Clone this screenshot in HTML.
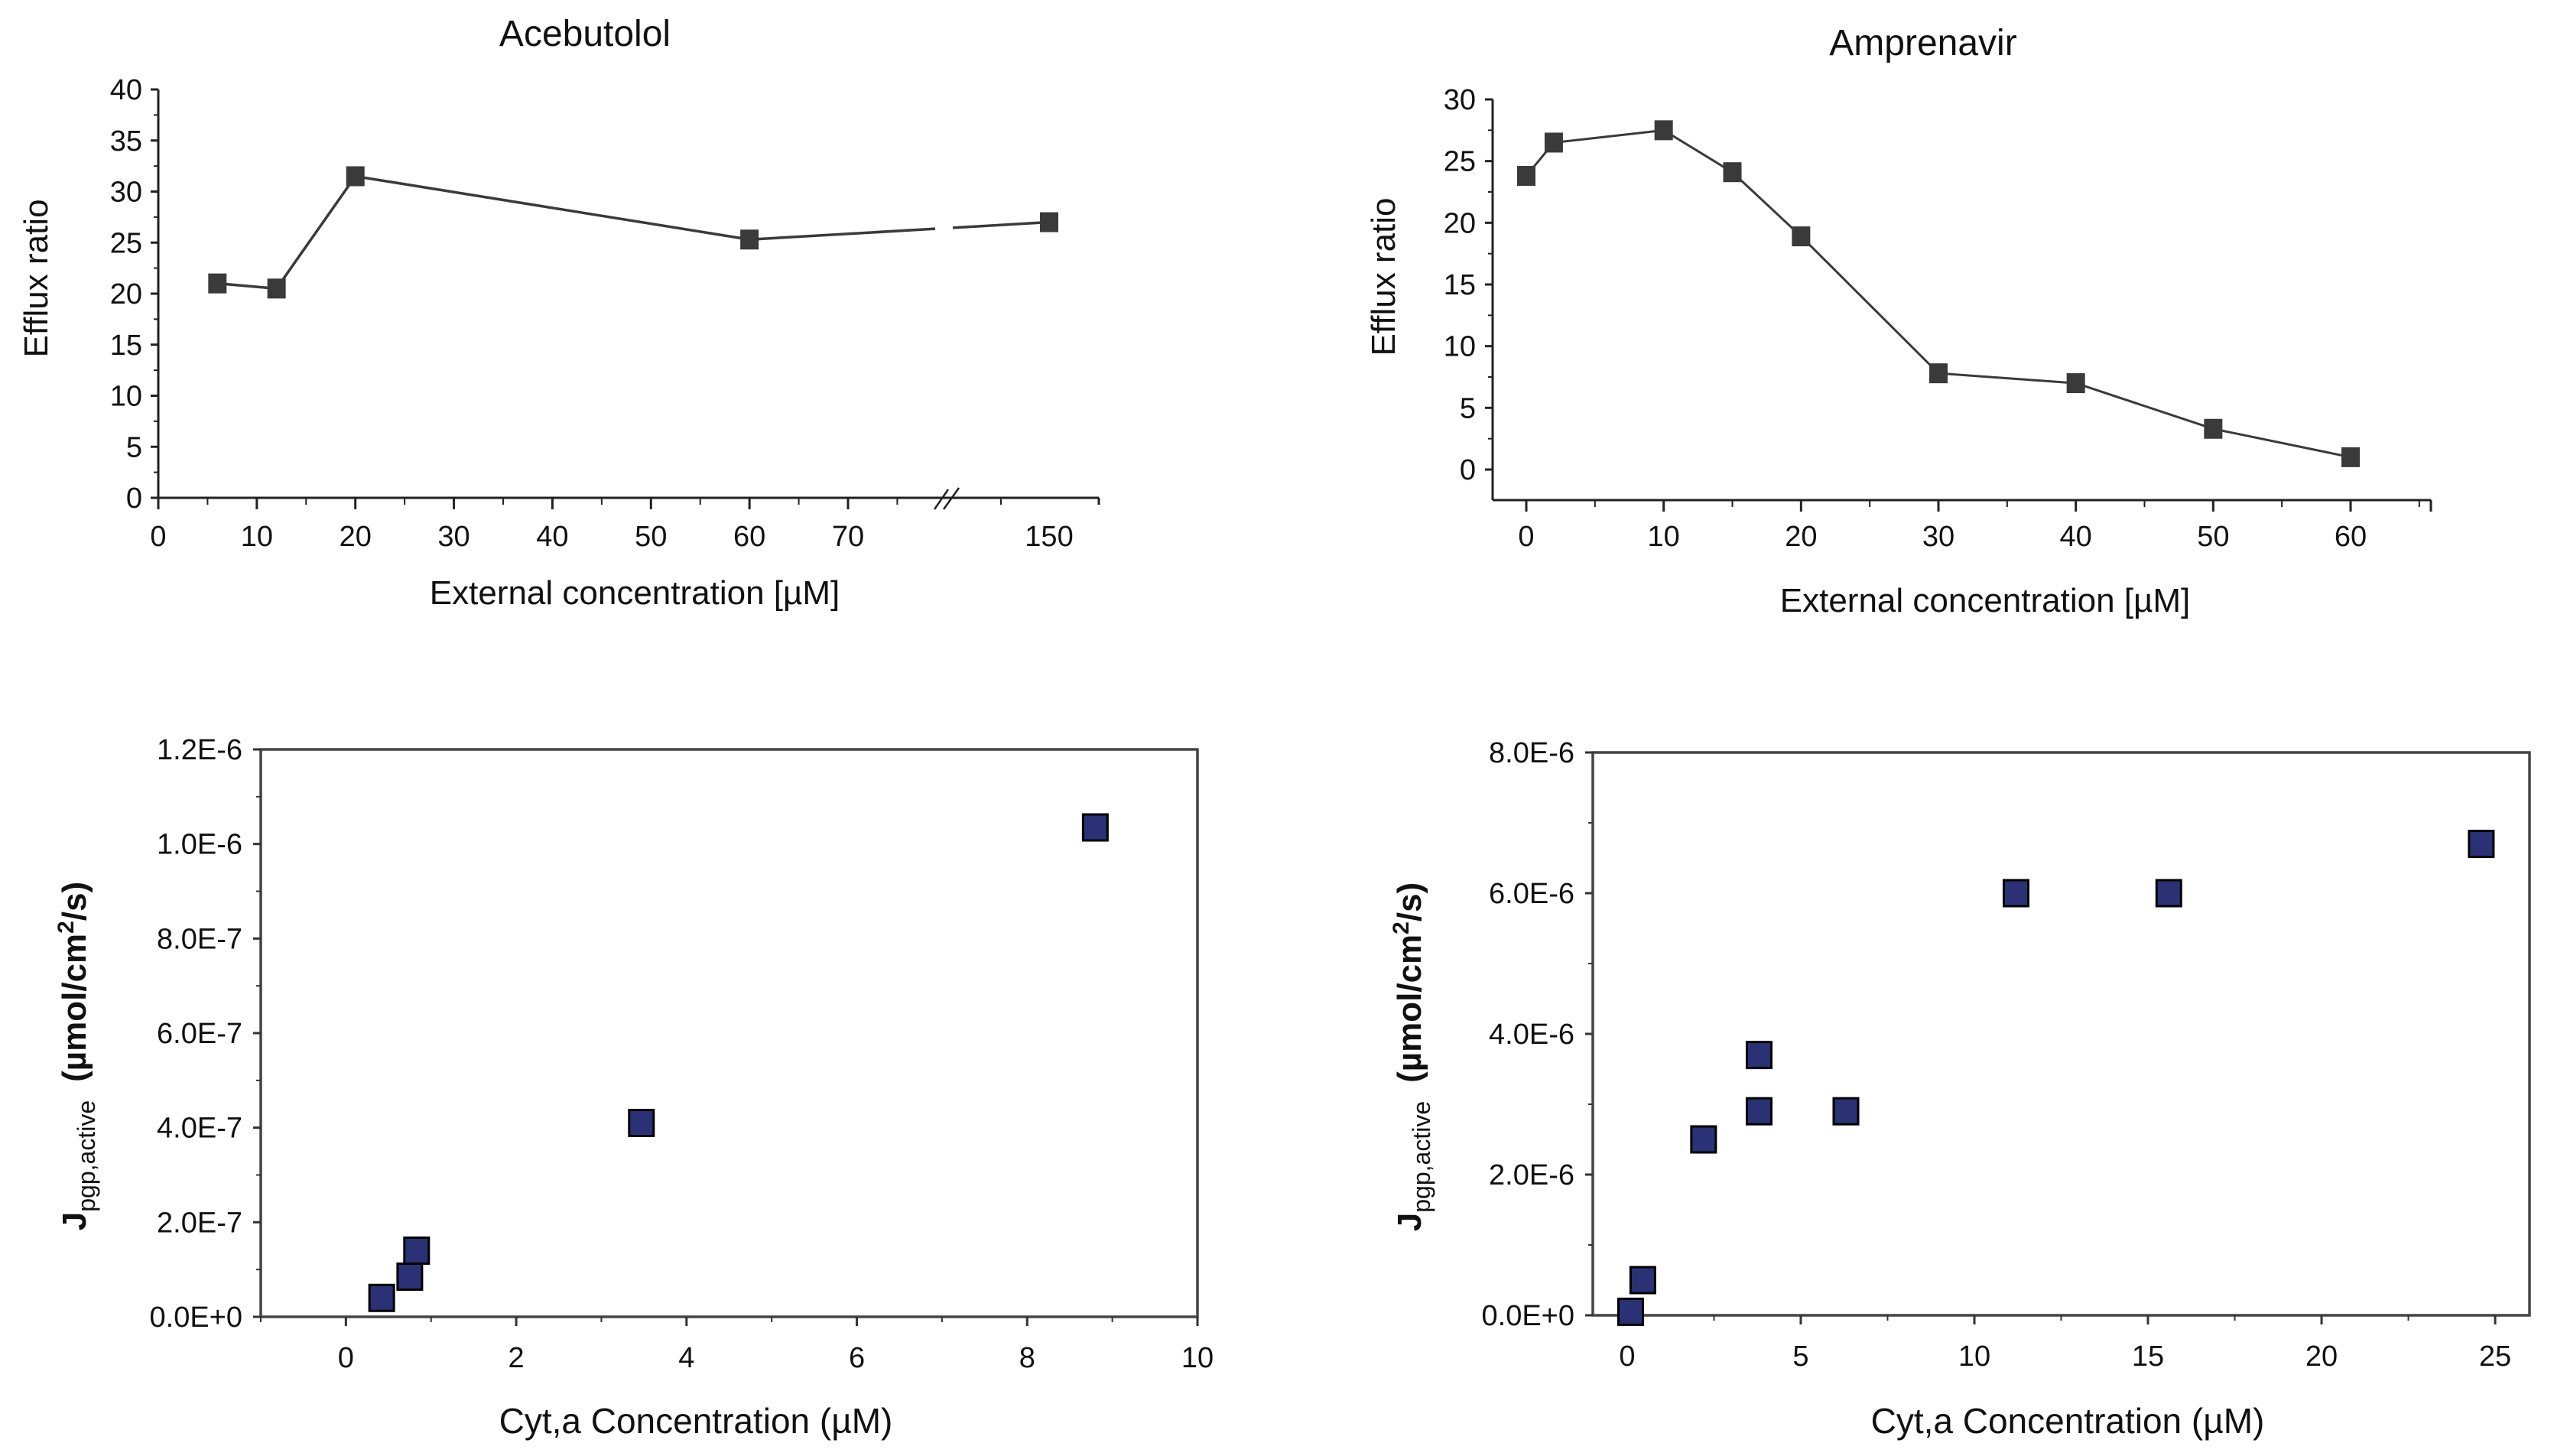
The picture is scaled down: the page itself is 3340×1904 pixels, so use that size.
<!DOCTYPE html>
<html><head><meta charset="utf-8"><style>
html,body{margin:0;padding:0;background:#fff}
svg{display:block}
text{font-family:"Liberation Sans",Arial,sans-serif;fill:#111}
</style></head><body>
<svg id="c" width="3340" height="1904" viewBox="0 0 3340 1904" xmlns="http://www.w3.org/2000/svg"></svg>
<script>
// ---- data ----
const aceX = [6, 12, 20, 60, 150];
const aceY = [21, 20.5, 31.5, 25.3, 27];
const aceXTicks = [0,10,20,30,40,50,60,70];
const aceYTicks = [0,5,10,15,20,25,30,35,40];
const ampX = [0, 2, 10, 15, 20, 30, 40, 50, 60];
const ampY = [23.8, 26.5, 27.5, 24.1, 18.9, 7.8, 7.0, 3.3, 1.0];
const ampXTicks = [0,10,20,30,40,50,60];
const ampYTicks = [0,5,10,15,20,25,30];
const cytAceX = [0.42, 0.75, 0.83, 3.47, 8.8];
const cytAceY = [0.04, 0.085, 0.14, 0.41, 1.035]; // x1e-6
const cytAceXTicks = [0,2,4,6,8,10];
const cytAceYTicks = ["0.0E+0","2.0E-7","4.0E-7","6.0E-7","8.0E-7","1.0E-6","1.2E-6"];
const cytAmpX = [0.1, 0.45, 2.2, 3.8, 3.8, 6.3, 11.2, 15.6, 24.6];
const cytAmpY = [0.05, 0.5, 2.5, 3.7, 2.9, 2.9, 6.0, 6.0, 6.7]; // x1e-6
const cytAmpXTicks = [0,5,10,15,20,25];
const cytAmpYTicks = ["0.0E+0","2.0E-6","4.0E-6","6.0E-6","8.0E-6"];

const NS="http://www.w3.org/2000/svg";
const svg=document.getElementById('c');
function mk(tag,attrs,parent,txt){const e=document.createElementNS(NS,tag);for(const k in attrs)e.setAttribute(k,attrs[k]);if(txt!==undefined)e.textContent=txt;(parent||svg).appendChild(e);return e;}
function line(x1,y1,x2,y2,w,c,p){return mk('line',{x1,y1,x2,y2,stroke:c||'#222','stroke-width':w||3},p);}
function lin(d0,d1,r0,r1){return v=>r0+(v-d0)*(r1-r0)/(d1-d0);}

// ===== Chart 1: Acebutolol =====
const g1=mk('g',{});


const x1lin=lin(0,70,207,1109);
const x1=v=>v>100?1372:x1lin(v);
const y1=lin(0,40,651,117);
let t=mk('text',{x:765,y:60,'font-size':48,'text-anchor':'middle'},g1,'Acebutolol');

line(207,117,207,651,3,'#222',g1);
line(207,651,1437,651,3,'#222',g1);
aceYTicks.forEach(v=>{line(197,y1(v),207,y1(v),3,'#222',g1);const l=mk('text',{x:186,y:y1(v)+13,'font-size':38,'text-anchor':'end'},g1,String(v));});
for(let v=2.5;v<40;v+=5)line(201,y1(v),207,y1(v),2,'#222',g1);
aceXTicks.forEach(v=>{line(x1(v),651,x1(v),666,3,'#222',g1);const l=mk('text',{x:x1(v),y:714,'font-size':38,'text-anchor':'middle'},g1,String(v));});
for(let v=5;v<=75;v+=10)line(x1lin(v),651,x1lin(v),660,2,'#222',g1);
line(1309,651,1309,660,2,'#222',g1);line(1437,651,1437,660,3,'#222',g1);
t=mk('text',{x:1372,y:714,'font-size':38,'text-anchor':'middle'},g1,'150');

line(1222,666,1240,640,2.5,'#222',g1);line(1234,666,1254,638,2.5,'#222',g1);
t=mk('text',{x:830,y:790,'font-size':44,'text-anchor':'middle'},g1,'External concentration [µM]');

t=mk('text',{x:62,y:364,'font-size':44,'text-anchor':'middle',transform:'rotate(-90 62 364)'},g1,'Efflux ratio');

{let pts=aceX.map((v,i)=>[x1(v),y1(aceY[i])]);
 for(let i=0;i<pts.length-1;i++){
  const [ax,ay]=pts[i],[bx,by]=pts[i+1];
  if(aceX[i+1]>100){const f=(xx)=>ay+(by-ay)*(xx-ax)/(bx-ax);line(ax,ay,1223,f(1223),3.5,'#3a3a3a',g1);line(1246,f(1246),bx,by,3.5,'#3a3a3a',g1);}
  else line(ax,ay,bx,by,3.5,'#3a3a3a',g1);
 }
 pts.forEach(p=>{const r=mk('rect',{x:p[0]-12,y:p[1]-13,width:24,height:26,fill:'#3a3a3a'},g1);});
}

// ===== Chart 2: Amprenavir =====
const g2=mk('g',{});


const x2=lin(0,60,1996,3074);
const y2=lin(0,30,614,130);
t=mk('text',{x:2515,y:72,'font-size':48,'text-anchor':'middle'},g2,'Amprenavir');

line(1952,130,1952,654,3,'#222',g2);
line(1952,654,3179,654,3,'#222',g2);
ampYTicks.forEach(v=>{line(1942,y2(v),1952,y2(v),3,'#222',g2);const l=mk('text',{x:1930,y:y2(v)+13,'font-size':38,'text-anchor':'end'},g2,String(v));});
for(let v=2.5;v<30;v+=5)line(1946,y2(v),1952,y2(v),2,'#222',g2);
ampXTicks.forEach(v=>{line(x2(v),654,x2(v),669,3,'#222',g2);const l=mk('text',{x:x2(v),y:714,'font-size':38,'text-anchor':'middle'},g2,String(v));});
for(let v=5;v<=65;v+=10)line(x2(v),654,x2(v),663,2,'#222',g2);
line(3179,654,3179,669,3,'#222',g2);
t=mk('text',{x:2596,y:800,'font-size':44,'text-anchor':'middle'},g2,'External concentration [µM]');

t=mk('text',{x:1824,y:362,'font-size':44,'text-anchor':'middle',transform:'rotate(-90 1824 362)'},g2,'Efflux ratio');

mk('polyline',{points:ampX.map((v,i)=>x2(v)+','+y2(ampY[i])).join(' '),fill:'none',stroke:'#3a3a3a','stroke-width':3},g2);
ampX.forEach((v,i)=>{const r=mk('rect',{x:x2(v)-12,y:y2(ampY[i])-13,width:24,height:26,fill:'#3a3a3a'},g2);});

// ===== scatter charts =====
function scatter(name,xs,ys,xt,yt,ymax,L,R,T,B,xmin,xmax,xlabX,ylabX){
 const g=mk('g',{});
 
 
 const X=lin(xmin,xmax,L,R), Y=lin(0,ymax,B,T);
 mk('rect',{x:L,y:T,width:R-L,height:B-T,fill:'none',stroke:'#444','stroke-width':3.5},g);
 yt.forEach((s,i)=>{const v=ymax*i/(yt.length-1);line(L-10,Y(v),L,Y(v),3,'#333',g);const l=mk('text',{x:L-24,y:Y(v)+13,'font-size':38,'text-anchor':'end'},g,s);
   if(i<yt.length-1){const m=ymax*(i+0.5)/(yt.length-1);line(L-6,Y(m),L,Y(m),2,'#333',g);}});
 const step=xt[1]-xt[0];
 xt.forEach(v=>{line(X(v),B,X(v),B+12,3,'#333',g);const l=mk('text',{x:X(v),y:B+66,'font-size':38,'text-anchor':'middle'},g,String(v));});
 for(let v=xt[0]-step/2;v<=xmax;v+=step){if(v>=xmin)line(X(v),B,X(v),B+7,2,'#333',g);}
 let t=mk('text',{x:xlabX,y:1874,'font-size':46,'text-anchor':'middle'},g,'Cyt,a Concentration (µM)');
 
 const cy=(T+B)/2+30;
 t=mk('text',{x:ylabX,y:cy,'font-size':44,'text-anchor':'middle','font-weight':'bold',transform:`rotate(-90 ${ylabX} ${cy})`},g);
 
 mk('tspan',{},t,'J');mk('tspan',{'font-size':32,'font-weight':'normal',dy:12},t,'pgp,active');
 mk('tspan',{dy:-12,dx:24},t,'(µmol/cm');mk('tspan',{'font-size':30,dy:-16},t,'2');mk('tspan',{dy:16},t,'/s)');
 xs.forEach((v,i)=>{const r=mk('rect',{x:X(v)-16,y:Y(ys[i])-17,width:32,height:34,fill:'#2a3275',stroke:'#000','stroke-width':3},g);});
}
scatter('acebutolol-flux-scatter',cytAceX,cytAceY,cytAceXTicks,cytAceYTicks,1.2,341,1566,980,1722,-1,10,910,112);
scatter('amprenavir-flux-scatter',cytAmpX,cytAmpY,cytAmpXTicks,cytAmpYTicks,8,2083,3308,984,1720,-0.99,25.99,2704,1858);
</script>
</body></html>
